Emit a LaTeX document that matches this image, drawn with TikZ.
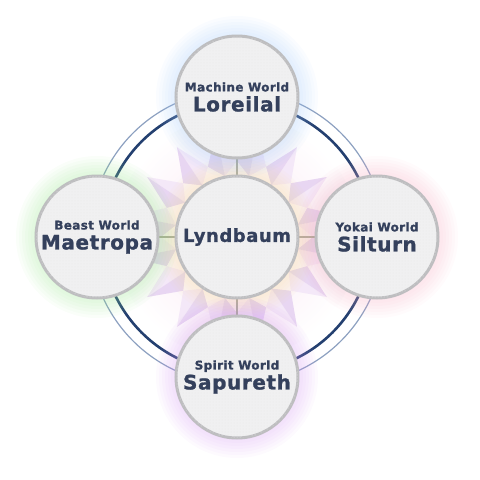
\documentclass[tikz,border=0pt]{standalone}
\usepackage{fontspec}
\newfontfamily\titlefont{DejaVu Sans Bold}[LetterSpace=3, FakeBold=1.2]
\usepackage{tikz}
\usetikzlibrary{positioning, patterns, backgrounds}
\definecolor{inkslate}{RGB}{52, 64, 92}
\definecolor{ringdark}{RGB}{36, 64, 112}
\definecolor{ringlight}{RGB}{140, 160, 192}
\definecolor{linkgray}{RGB}{160, 160, 150}
\definecolor{rimgray}{RGB}{190, 190, 192}
\definecolor{facegray}{RGB}{240, 240, 241}
\definecolor{tintblue}{RGB}{190, 216, 244}
\definecolor{tintgreen}{RGB}{200, 236, 188}
\definecolor{tintpink}{RGB}{244, 198, 210}
\definecolor{tintviolet}{RGB}{224, 194, 240}
\definecolor{tintgold}{RGB}{248, 218, 160}
\definecolor{glowblue}{RGB}{160, 200, 250}
\definecolor{glowgreen}{RGB}{150, 230, 140}
\definecolor{glowpink}{RGB}{246, 170, 192}
\definecolor{glowviolet}{RGB}{212, 150, 242}
\definecolor{glowgold}{RGB}{250, 222, 150}
\definecolor{spikelight}{RGB}{244, 232, 248}
\definecolor{spikedark}{RGB}{232, 214, 242}
\definecolor{halopink}{RGB}{250, 230, 242}

% rim tints for the world discs
\pgfdeclareradialshading{faceblue}{\pgfpoint{0bp}{0bp}}{color(0bp)=(facegray); color(35bp)=(facegray); color(50bp)=(tintblue)}
\pgfdeclareradialshading{facegreen}{\pgfpoint{0bp}{0bp}}{color(0bp)=(facegray); color(35bp)=(facegray); color(50bp)=(tintgreen)}
\pgfdeclareradialshading{facepink}{\pgfpoint{0bp}{0bp}}{color(0bp)=(facegray); color(35bp)=(facegray); color(50bp)=(tintpink)}
\pgfdeclareradialshading{faceviolet}{\pgfpoint{0bp}{0bp}}{color(0bp)=(facegray); color(35bp)=(facegray); color(50bp)=(tintviolet)}
\pgfdeclareradialshading{facegold}{\pgfpoint{0bp}{0bp}}{color(0bp)=(facegray); color(35bp)=(facegray); color(50bp)=(tintgold)}

\newcommand{\worldlabel}[2]{{\fontsize{12}{14}\selectfont #1}\\{#2}}

\begin{document}
\begin{tikzpicture}[
        x=1pt, y=1pt,
        node distance=18pt,
        world/.style={circle, minimum size=122pt, inner sep=0pt, outer sep=0pt, draw=rimgray, line width=3pt,
            shading=#1, align=center, text=inkslate,
            font=\fontsize{20}{20}\selectfont\titlefont,
            postaction={pattern=dots, pattern color=gray!18}},
        link/.style={draw=linkgray, line width=2pt},
        glow/.style={fill=#1, opacity=0.05}
    ]
        \useasboundingbox (-237,-243) rectangle (243,237);

        \node[world=facegold] (hub) at (0,0) {\fontsize{18}{20}\selectfont Lyndbaum};
        \node[world=faceblue, above=of hub] (machine) {\worldlabel{Machine World}{Loreilal}};
        \node[world=facegreen, left=of hub] (beast) {\worldlabel{Beast World}{Maetropa}};
        \node[world=facepink, right=of hub] (yokai) {\worldlabel{Yokai World}{Silturn}};
        \node[world=faceviolet, below=of hub] (spirit) {\worldlabel{Spirit World}{Sapureth}};

        \begin{scope}[on background layer]
            % halo and sixteen spikes behind the hub
            \shade[inner color=halopink, outer color=white] (hub.center) circle (122pt);
            \foreach \k in {0,...,15} {
                \pgfmathsetmacro\a{22.5*\k+11.25}
                \fill[spikelight] (\a-11.25:76) -- (\a:108) -- (\a:62) -- cycle;
                \fill[spikedark] (\a:62) -- (\a:108) -- (\a+11.25:76) -- cycle;
            }
            % outer ring
            \draw[ringlight, line width=1.2pt] (hub.center) circle (147pt);
            \draw[ringdark, line width=2.6pt] (hub.center) circle (135pt);
            \draw[link] (hub) -- (machine);
            \draw[link] (hub) -- (beast);
            \draw[link] (hub) -- (yokai);
            \draw[link] (hub) -- (spirit);
            % coloured glows
            \foreach \n/\c in {hub/glowgold, machine/glowblue, beast/glowgreen, yokai/glowpink, spirit/glowviolet}
                \foreach \r in {63,66,...,81}
                    \fill[glow=\c] (\n.center) circle (\r pt);
        \end{scope}
    \end{tikzpicture}
\end{document}
